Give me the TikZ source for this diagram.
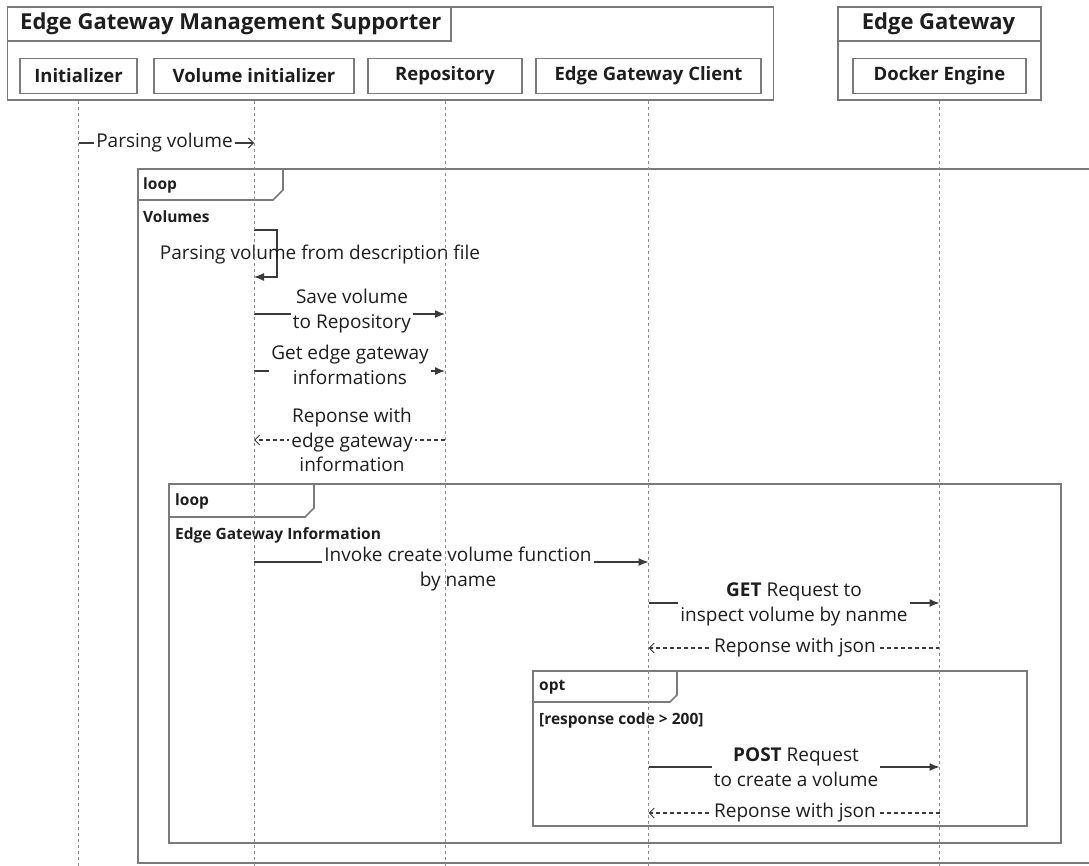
\documentclass[tikz,border=0pt]{standalone}
\usepackage{fontspec}
\setmainfont{Open Sans}
\usetikzlibrary{arrows.meta}
\definecolor{framegray}{HTML}{7A7A7A}
\definecolor{linegray}{HTML}{3A3A3A}
\definecolor{lifegray}{HTML}{8C8C8C}
\definecolor{inkc}{HTML}{1E1E1E}
\begin{document}
\begin{tikzpicture}[x=1pt,y=-1pt,
  every node/.style={text=inkc},
  frame/.style={draw=framegray, line width=1.6pt},
  part/.style={draw=framegray, line width=1.4pt, inner sep=0pt, minimum height=35pt,
    font=\fontsize{18.5}{22}\selectfont\bfseries},
  grouptitle/.style={font=\fontsize{22}{26}\selectfont\bfseries, inner sep=0pt},
  tag/.style={font=\fontsize{15.5}{18}\selectfont\bfseries, inner sep=0pt, anchor=west},
  lifeline/.style={draw=lifegray, line width=1pt, dash pattern=on 3pt off 3pt},
  call/.style={draw=linegray, line width=1.2pt, -{Latex[length=10pt,width=8pt]}},
  reply/.style={draw=linegray, line width=1.1pt, dash pattern=on 4pt off 3pt,
    -{Straight Barb[length=5pt,width=10pt,line width=1pt]}},
  async/.style={draw=linegray, line width=1.1pt,
    -{Straight Barb[length=5pt,width=10pt,line width=1pt]}},
  msg/.style={font=\fontsize{19}{24.5}\selectfont, align=center, fill=white,
    inner xsep=2pt, inner ysep=0pt},
]
\useasboundingbox (0,0) rectangle (1089,866);

% ---- participant groups ----
\node[frame, anchor=north west, minimum width=766pt, minimum height=93pt, inner sep=0pt] (egms) at (6.5,6.5) {};
\draw[frame] (6.5,41) -- (451,41) -- (451,6.5);
\node[grouptitle, anchor=west] (egmsT) at (20,24) {Edge Gateway Management Supporter};

\node[frame, anchor=north west, minimum width=203pt, minimum height=93pt, inner sep=0pt] (egw) at (837,6.5) {};
\draw[frame] (837,41) -- (1040,41);
\node[grouptitle] (egwT) at (938.5,24) {Edge Gateway};

% ---- participants ----
\node[part, minimum width=117pt] (init)  at (78.5,76) {Initializer};
\node[part, minimum width=200pt] (vinit) at (254,76)  {Volume initializer};
\node[part, minimum width=154pt] (repo)  at (445,76)  {Repository};
\node[part, minimum width=225pt] (egc)   at (648.5,76) {Edge Gateway Client};
\node[part, minimum width=173pt] (dock)  at (939.5,76) {Docker Engine};

% ---- row positions ----
\coordinate (r0) at (0,143);
\coordinate (s1) at (0,230);
\coordinate (s2) at (0,277);
\coordinate (r1) at (0,314);
\coordinate (r2) at (0,371);
\coordinate (r3) at (0,440);
\coordinate (r4) at (0,562);
\coordinate (r5) at (0,603);
\coordinate (r6) at (0,648);
\coordinate (r7) at (0,767);
\coordinate (r8) at (0,813);
\coordinate (bot) at (0,866);

% ---- combined fragments ----
% outer loop
\draw[frame] (1095,169) -- (138,169) -- (138,863) -- (1095,863);
\draw[frame] (138,200) -- (273,200) -- (283,190) -- (283,169);
\node[tag] (loop1) at (143,185) {loop};
\node[tag] (loop1g) at (143,217) {Volumes};
% inner loop
\draw[frame] (169,484) rectangle (1061,843);
\draw[frame] (169,517) -- (305,517) -- (314,508) -- (314,484);
\node[tag] (loop2) at (175,501) {loop};
\node[tag] (loop2g) at (175,535) {Edge Gateway Information};
% opt
\draw[frame] (533,671) rectangle (1027,826);
\draw[frame] (533,702) -- (670,702) -- (677,695) -- (677,671);
\node[tag] (opt) at (539,687) {opt};
\node[tag] (optg) at (539,720) {[response code > 200]};

% ---- messages ----
\draw[async] (init |- r0) -- (vinit |- r0);
\node[msg] (m0) at (164.5,143) {Parsing volume};

\draw[call] (vinit |- s1) -- (277,230) -- (277,277) -- (vinit |- s2);
\node[msg, fill=none] (m1) at (320,255) {Parsing volume from description file};

\draw[call] (vinit |- r1) -- (repo |- r1);
\node[msg] (m2) at (352,311) {Save volume\\to Repository};

\draw[call] (vinit |- r2) -- (repo |- r2);
\node[msg] (m3) at (350,365) {Get edge gateway\\informations};

\draw[reply] (repo |- r3) -- (vinit |- r3);
\node[msg] (m4) at (352,440) {Reponse with\\edge gateway\\information};

\draw[call] (vinit |- r4) -- (egc |- r4);
\node[msg] (m5) at (458,569) {Invoke create volume function\\by name};

\draw[call] (egc |- r5) -- (dock |- r5);
\node[msg] (m6) at (794,604.5) {\textbf{GET} Request to\\inspect volume by nanme};

\draw[reply] (dock |- r6) -- (egc |- r6);
\node[msg] (m7) at (795,648) {Reponse with json};

\draw[call] (egc |- r7) -- (dock |- r7);
\node[msg] (m8) at (796,767) {\textbf{POST} Request\\to create a volume};

\draw[reply] (dock |- r8) -- (egc |- r8);
\node[msg] (m9) at (795,813) {Reponse with json};

% ---- lifelines ----
\foreach \p in {init,vinit,repo,egc}
  \draw[lifeline] (\p |- egms.south) -- (\p |- bot);
\draw[lifeline] (dock |- egw.south) -- (dock |- bot);
\end{tikzpicture}
\end{document}
